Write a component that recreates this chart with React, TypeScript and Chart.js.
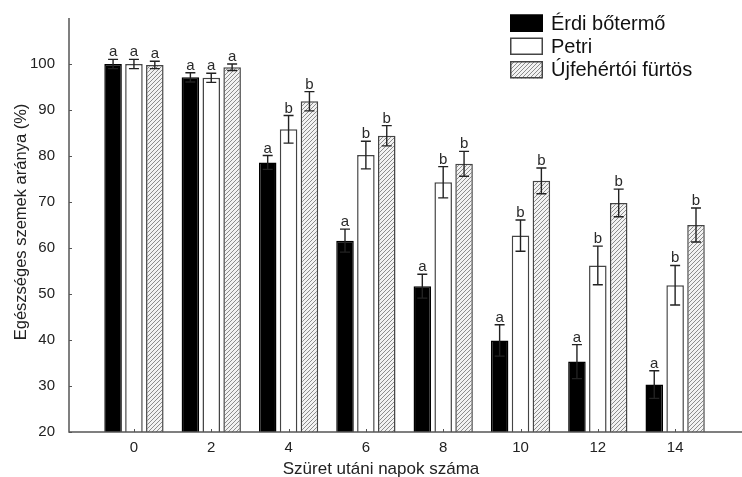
import React, { useEffect, useRef } from "react";
import { Chart, registerables } from "chart.js";

Chart.register(...registerables);

// ---- data ----
const days = [0, 2, 4, 6, 8, 10, 12, 14];
const seriesNames = ["Érdi bőtermő", "Petri", "Újfehértói fürtös"];

const erdi = [100, 97.1, 78.6, 61.6, 51.7, 39.9, 35.3, 30.3];
const erdiErr = [1.0, 1.0, 1.5, 2.5, 2.6, 3.4, 3.7, 3.0];
const erdiLetters = ["a", "a", "a", "a", "a", "a", "a", "a"];

const petri = [100, 97.0, 85.8, 80.2, 74.3, 62.7, 56.2, 51.9];
const petriErr = [1.0, 1.0, 3.0, 3.0, 3.4, 3.4, 4.2, 4.3];
const petriLetters = ["a", "a", "b", "b", "b", "b", "b", "b"];

const ujf = [99.8, 99.3, 91.9, 84.4, 78.3, 74.6, 69.8, 65.0];
const ujfErr = [0.8, 0.7, 2.1, 2.2, 2.7, 2.8, 3.0, 3.7];
const ujfLetters = ["a", "a", "b", "b", "b", "b", "b", "b"];

const yTicks = [20, 30, 40, 50, 60, 70, 80, 90, 100];
const xTitle = "Szüret utáni napok száma";
const yTitle = "Egészséges szemek aránya (%)";

const FONT = "'Liberation Sans', Arial, Helvetica, sans-serif";
const AXIS = "#555";

function makeHatch(): CanvasPattern | string {
  const c = document.createElement("canvas");
  c.width = 4;
  c.height = 4;
  const g = c.getContext("2d");
  if (!g) return "#ccc";
  g.fillStyle = "#f2f2f2";
  g.fillRect(0, 0, 4, 4);
  g.strokeStyle = "#8c8c8c";
  g.lineWidth = 1;
  g.beginPath();
  g.moveTo(-1, 5);
  g.lineTo(5, -1);
  g.stroke();
  g.beginPath();
  g.moveTo(-1, 1);
  g.lineTo(1, -1);
  g.stroke();
  g.beginPath();
  g.moveTo(3, 5);
  g.lineTo(5, 3);
  g.stroke();
  const p = g.createPattern(c, "repeat");
  return p || "#ccc";
}

export default function App() {
  const ref = useRef<HTMLCanvasElement | null>(null);

  useEffect(() => {
    if (!ref.current) return;
    const hatch = makeHatch();
    const errs = [erdiErr, petriErr, ujfErr];
    const lets = [erdiLetters, petriLetters, ujfLetters];
    const fills: any[] = ["#000000", "#ffffff", hatch];
    const borders = ["#000000", "#444444", "#444444"];

    const overlay = {
      id: "overlay",
      afterDatasetsDraw(chart: any) {
        const ctx = chart.ctx as CanvasRenderingContext2D;
        const ys = chart.scales.y;
        const xs = chart.scales.x;
        const area = chart.chartArea;
        ctx.save();
        // error bars + letters
        chart.data.datasets.forEach((ds: any, di: number) => {
          const meta = chart.getDatasetMeta(di);
          meta.data.forEach((bar: any, i: number) => {
            const v = ds.data[i].y;
            const e = errs[di][i];
            const top = ys.getPixelForValue(v + e);
            const bot = ys.getPixelForValue(v - e);
            const cx = bar.x;
            ctx.strokeStyle = "#222";
            ctx.lineWidth = 1.4;
            ctx.beginPath();
            ctx.moveTo(cx, top);
            ctx.lineTo(cx, bot);
            ctx.moveTo(cx - 5, top);
            ctx.lineTo(cx + 5, top);
            ctx.moveTo(cx - 5, bot);
            ctx.lineTo(cx + 5, bot);
            ctx.stroke();
            ctx.fillStyle = "#2a2a2a";
            ctx.font = `15px ${FONT}`;
            ctx.textAlign = "center";
            ctx.textBaseline = "alphabetic";
            ctx.fillText(lets[di][i], cx, top - 3);
          });
        });
        // axes
        ctx.strokeStyle = AXIS;
        ctx.lineWidth = 1.5;
        ctx.beginPath();
        ctx.moveTo(area.left, area.top);
        ctx.lineTo(area.left, area.bottom);
        ctx.lineTo(area.right, area.bottom);
        ctx.stroke();
        ctx.lineWidth = 1;
        ctx.beginPath();
        yTicks.forEach((t) => {
          const py = Math.round(ys.getPixelForValue(t)) + 0.5;
          ctx.moveTo(area.left, py);
          ctx.lineTo(area.left + 3, py);
        });
        days.forEach((d) => {
          const px = Math.round(xs.getPixelForValue(d)) + 0.5;
          ctx.moveTo(px, area.bottom);
          ctx.lineTo(px, area.bottom - 3);
        });
        ctx.stroke();
        ctx.restore();
      },
      afterDraw(chart: any) {
        const ctx = chart.ctx as CanvasRenderingContext2D;
        ctx.save();
        // titles
        ctx.fillStyle = "#222";
        ctx.font = `17px ${FONT}`;
        ctx.textAlign = "center";
        ctx.textBaseline = "top";
        ctx.fillText(xTitle, 381, 461);
        ctx.save();
        ctx.translate(21, 222);
        ctx.rotate(-Math.PI / 2);
        ctx.font = `16.5px ${FONT}`;
        ctx.textBaseline = "middle";
        ctx.fillText(yTitle, 0, 0);
        ctx.restore();
        // legend
        const boxX = 510;
        const boxW = 33;
        const boxH = 17.5;
        const tops = [14.5, 37.5, 61];
        seriesNames.forEach((name, i) => {
          ctx.fillStyle = fills[i];
          ctx.fillRect(boxX, tops[i], boxW, boxH);
          ctx.strokeStyle = i === 0 ? "#000" : "#444";
          ctx.lineWidth = 1.5;
          ctx.strokeRect(boxX + 0.75, tops[i] + 0.75, boxW - 1.5, boxH - 1.5);
          ctx.fillStyle = "#111";
          ctx.font = `20px ${FONT}`;
          ctx.textAlign = "left";
          ctx.textBaseline = "middle";
          ctx.fillText(name, 551, tops[i] + boxH / 2 + 1);
        });
        ctx.restore();
      },
    };

    const mk = (vals: number[]) => vals.map((v, i) => ({ x: days[i], y: v }));

    const chart = new Chart(ref.current, {
      type: "bar",
      data: {
        datasets: [
          { label: seriesNames[0], data: mk(erdi), backgroundColor: fills[0], borderColor: borders[0], borderWidth: 1.5 },
          { label: seriesNames[1], data: mk(petri), backgroundColor: fills[1], borderColor: borders[1], borderWidth: 1.5 },
          { label: seriesNames[2], data: mk(ujf), backgroundColor: fills[2], borderColor: borders[2], borderWidth: 1.5 },
        ] as any,
      },
      options: {
        animation: false,
        responsive: true,
        maintainAspectRatio: false,
        layout: { padding: { top: 18, left: 0, right: 0, bottom: 0 } },
        datasets: { bar: { categoryPercentage: 0.81, barPercentage: 0.84 } },
        plugins: { legend: { display: false }, tooltip: { enabled: false } },
        scales: {
          x: {
            type: "linear",
            min: -1.68,
            max: 15.73,
            offset: false,
            grid: { display: false },
            border: { display: false },
            afterBuildTicks: (s: any) => {
              s.ticks = days.map((d) => ({ value: d }));
            },
            afterFit: (s: any) => {
              s.height = 45;
            },
            ticks: {
              color: "#222",
              font: { family: FONT, size: 15 },
              padding: -1,
              maxRotation: 0,
              autoSkip: false,
              callback: (v: any) => String(v),
            },
          },
          y: {
            type: "linear",
            min: 20,
            max: 110,
            grid: { display: false },
            border: { display: false },
            afterBuildTicks: (s: any) => {
              s.ticks = yTicks.map((t) => ({ value: t }));
            },
            afterFit: (s: any) => {
              s.width = 69;
            },
            ticks: {
              color: "#222",
              font: { family: FONT, size: 15 },
              padding: 6,
              callback: (v: any) => String(v),
            },
          },
        },
      } as any,
      plugins: [overlay],
    });
    return () => chart.destroy();
  }, []);

  return (
    <div style={{ position: "fixed", left: 0, top: 0, width: 742, height: 477, background: "#fff" }}>
      <canvas ref={ref} />
    </div>
  );
}
